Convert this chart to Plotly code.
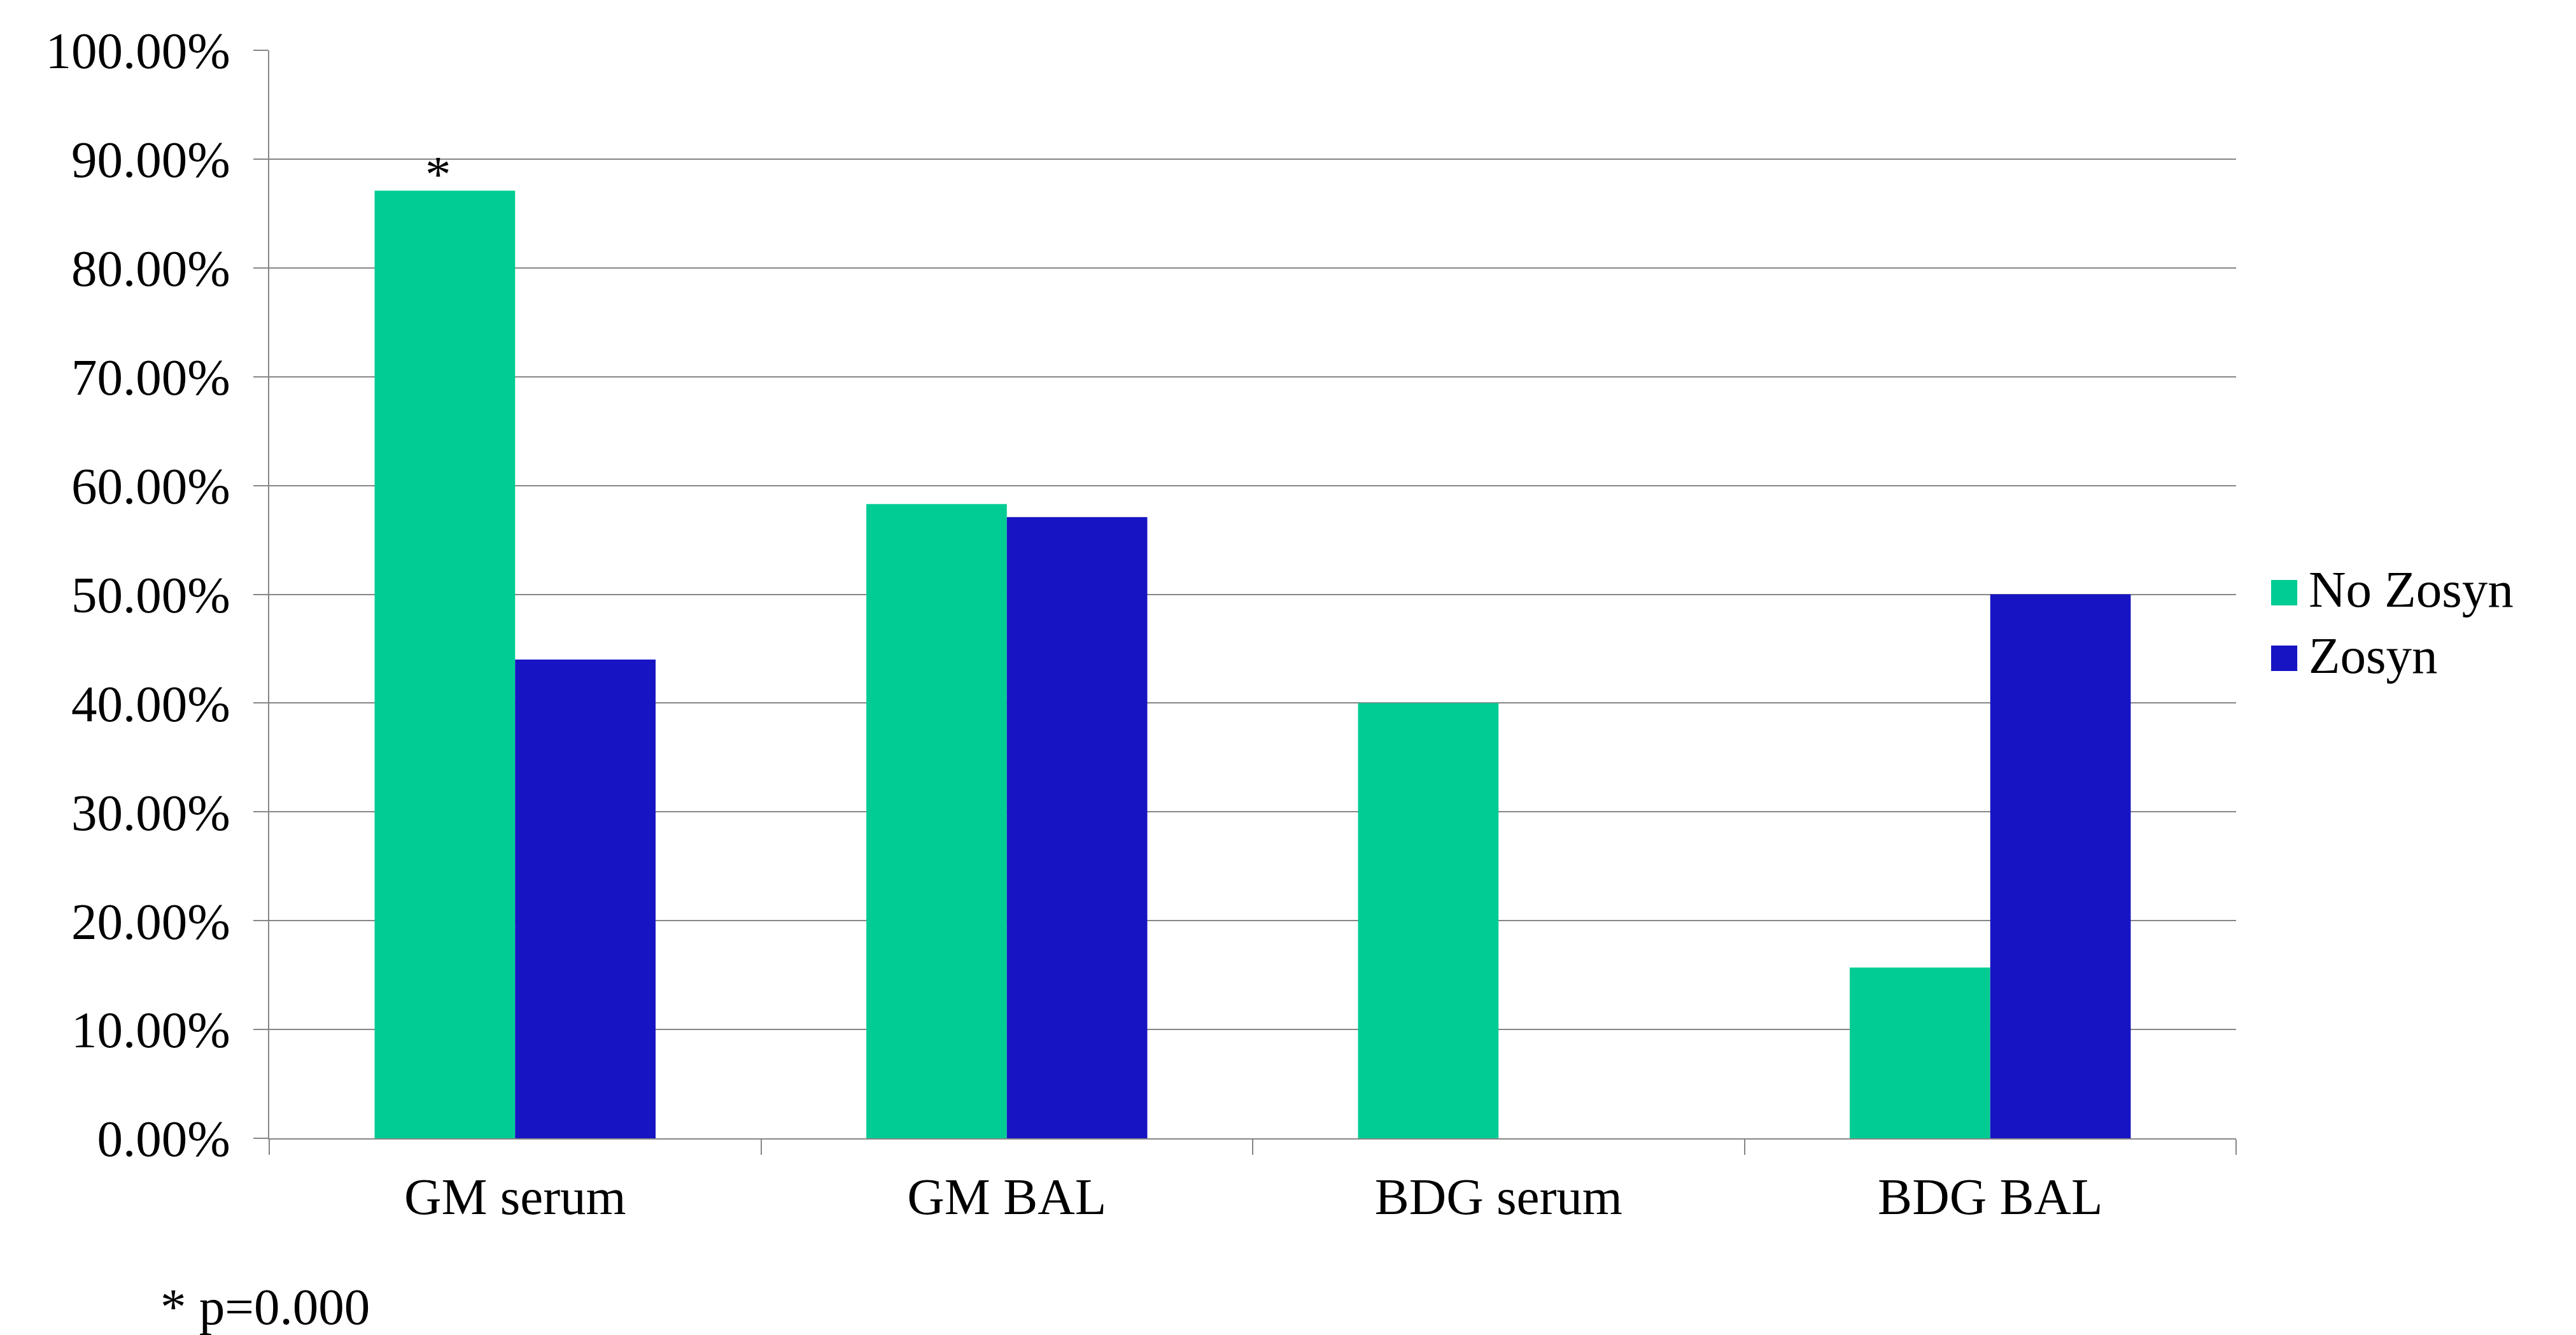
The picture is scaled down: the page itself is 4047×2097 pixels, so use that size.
import plotly.graph_objects as go

categories = ["GM serum", "GM BAL", "BDG serum", "BDG BAL"]
series_names = ["No Zosyn", "Zosyn"]
no_zosyn = [0.871, 0.583, 0.400, 0.157]
zosyn = [0.440, 0.571, 0.0, 0.500]
series_values = [no_zosyn, zosyn]
series_colors = ["#00CC93", "#1714C4"]
y_ticks = [i / 10 for i in range(11)]
footnote = "* p=0.000"
star_label = "*"

FONT = "Liberation Serif, Times New Roman, serif"
FS = 81
GRID = "#868686"

fig = go.Figure()
for name, vals, col in zip(series_names, series_values, series_colors):
    fig.add_trace(go.Bar(x=categories, y=vals, name=name, marker=dict(color=col, line=dict(width=0)),
                         showlegend=False))

fig.update_layout(
    width=4047, height=2097,
    margin=dict(l=423, r=534, t=79, b=309),
    paper_bgcolor="white", plot_bgcolor="white",
    barmode="group", bargap=1.5 / 3.5, bargroupgap=0,
    font=dict(family=FONT, size=FS, color="black"),
)
fig.update_xaxes(type="category", tickson="boundaries", ticks="outside", ticklen=24, tickwidth=2,
                 tickcolor=GRID, showline=True, linecolor=GRID, linewidth=2, showgrid=False,
                 tickfont=dict(family=FONT, size=FS, color="black"), ticklabelstandoff=20)
fig.update_yaxes(range=[0, 1], tickvals=y_ticks, tickformat=".2%", ticks="outside", ticklen=23, tickwidth=2,
                 tickcolor=GRID, showline=True, linecolor=GRID, linewidth=2, showgrid=True,
                 gridcolor=GRID, gridwidth=2, zeroline=False,
                 tickfont=dict(family=FONT, size=FS, color="black"), ticklabelstandoff=20)

# significance star above first bar
fig.add_annotation(x=categories[0], y=no_zosyn[0], xref="x", yref="y", text=star_label, showarrow=False,
                   xanchor="center", yanchor="bottom", xshift=-121, yshift=-22,
                   font=dict(family=FONT, size=FS, color="black"))

# manual legend
legend_rows = [(0.5132, 0.4898, 0.5044), (0.4529, 0.4295, 0.4435)]
for (y1, y0, ty), name, col in zip(legend_rows, series_names, series_colors):
    fig.add_shape(type="rect", xref="paper", yref="paper", x0=1.0178, x1=1.0311, y0=y0, y1=y1,
                  fillcolor=col, line=dict(width=0))
    fig.add_annotation(x=1.0362, y=ty, xref="paper", yref="paper", text=name, showarrow=False,
                       xanchor="left", yanchor="middle", font=dict(family=FONT, size=FS, color="black"))

fig.add_annotation(x=-0.056, y=-0.155, xref="paper", yref="paper", text=footnote, showarrow=False,
                   xanchor="left", yanchor="middle", font=dict(family=FONT, size=FS, color="black"))

fig.write_html("out.html")
